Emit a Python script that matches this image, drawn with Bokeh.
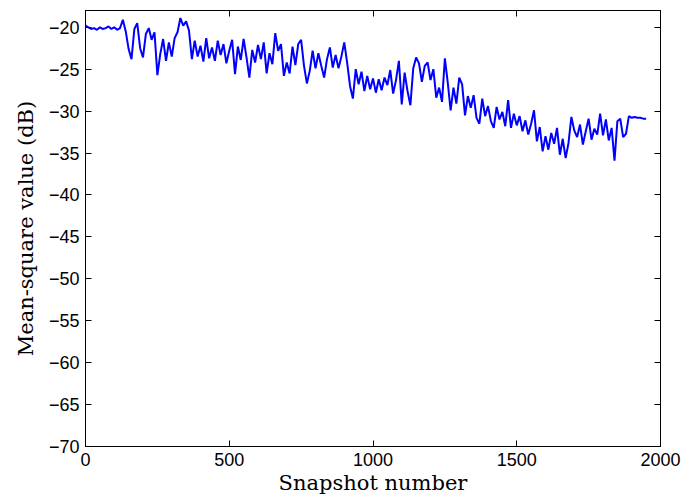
from bokeh.plotting import figure
from bokeh.models import Range1d, FixedTicker, LinearAxis, CustomJSTickFormatter
from bokeh.embed import file_html
from bokeh.resources import INLINE

# Mean-square value (dB), one value every 10 snapshots
msv_db = [
    -19.8, -20.0, -20.2, -20.1, -20.3, -20.0, -20.2, -20.1, -19.9, -20.2, -20.0, -20.3, -20.1,
    -19.1, -20.5, -22.6, -23.8, -20.2, -19.5, -22.5, -23.6, -20.8, -20.1,
    -21.5, -20.6, -25.7, -23.2, -21.4, -24.0, -21.8, -23.5, -21.3, -20.6,
    -18.9, -19.8, -19.3, -20.4, -23.8, -21.6, -23.5, -22.2, -24.1, -21.3,
    -23.7, -22.4, -24.0, -21.6, -23.3, -22.0, -24.3, -22.8, -21.5, -25.6,
    -22.3, -23.9, -21.4, -23.6, -26.0, -22.7, -24.2, -22.1, -23.8, -21.8,
    -25.5, -23.1, -24.4, -20.7, -22.8, -22.0, -25.8, -24.2, -25.5, -22.3,
    -24.5, -22.0, -21.5, -24.6, -26.7, -25.2, -22.8, -24.9, -23.1, -24.6,
    -26.0, -23.8, -22.4, -24.8, -23.3, -24.9, -23.5, -21.8, -24.2, -27.0,
    -28.5, -25.0, -26.8, -25.3, -27.6, -25.8, -27.4, -26.1, -27.8, -26.2,
    -27.5, -26.0, -26.9, -25.1, -27.9, -26.3, -24.0, -29.2, -25.4, -27.6,
    -29.3, -24.9, -23.6, -24.3, -26.5, -24.6, -24.2, -26.3, -25.0, -28.4,
    -27.2, -28.9, -23.7, -26.6, -29.9, -27.2, -29.1, -26.0, -26.8, -30.5,
    -28.2, -29.6, -28.1, -30.8, -31.5, -28.5, -30.6, -29.4, -31.2, -32.0,
    -29.5, -31.0, -30.1, -31.8, -28.7, -32.0, -30.3, -31.7, -30.6, -32.4,
    -31.1, -32.8, -31.5, -29.9, -33.6, -31.9, -34.8, -33.0, -34.6, -32.6,
    -33.9, -32.0, -35.2, -33.3, -35.6, -33.8, -30.7, -32.3, -33.1, -31.6,
    -34.0, -32.4, -30.9, -33.4, -32.1, -32.8, -30.3, -32.9, -31.0, -33.5,
    -32.0, -35.9, -31.2, -30.9, -33.1, -32.7, -30.6, -30.8, -30.7, -30.8,
    -30.8, -30.9, -30.9,
]
snapshot = [10 * i for i in range(len(msv_db))]

x_ticks = [0, 500, 1000, 1500, 2000]
y_ticks = [-70, -65, -60, -55, -50, -45, -40, -35, -30, -25, -20]

p = figure(width=684, height=503, x_range=Range1d(0, 2000), y_range=Range1d(-70, -18),
           output_backend="svg", toolbar_location=None,
           min_border_left=85, min_border_right=24, min_border_top=10, min_border_bottom=57)

p.line(snapshot, msv_db, line_color="#0000FF", line_width=2)

p.xgrid.grid_line_color = None
p.ygrid.grid_line_color = None
p.outline_line_color = "black"
p.outline_line_width = 1
p.background_fill_color = "white"
p.border_fill_color = "white"

fmt = CustomJSTickFormatter(code="return (tick < 0 ? '\u2212' : '') + Math.abs(tick);")
blank = CustomJSTickFormatter(code="return '';")

def style_axis(ax, ticks, show_labels):
    ax.ticker = FixedTicker(ticks=ticks)
    ax.major_tick_in = 6
    ax.major_tick_out = 0
    ax.minor_tick_line_color = None
    ax.axis_line_color = "black"
    ax.major_tick_line_color = "black"
    ax.major_label_text_font = "Liberation Sans"
    ax.major_label_text_color = "black"
    ax.major_label_text_font_size = "18px"
    if show_labels:
        ax.formatter = fmt
        ax.major_label_standoff = 6
    else:
        ax.formatter = blank
        ax.major_label_standoff = 0

style_axis(p.xaxis[0], x_ticks, True)
style_axis(p.yaxis[0], y_ticks, True)

p.xaxis[0].axis_label = "Snapshot number"
p.yaxis[0].axis_label = "Mean-square value (dB)"
for ax in (p.xaxis[0], p.yaxis[0]):
    ax.axis_label_text_font = "DejaVu Serif"
    ax.axis_label_text_font_size = "21px"
    ax.axis_label_text_font_style = "normal"
    ax.axis_label_text_color = "black"
p.xaxis[0].axis_label_standoff = 2
p.yaxis[0].axis_label_standoff = 8

top = LinearAxis()
right = LinearAxis()
style_axis(top, x_ticks, False)
style_axis(right, y_ticks, False)
p.add_layout(top, "above")
p.add_layout(right, "right")

open("out.html", "w").write(file_html(p, INLINE))
